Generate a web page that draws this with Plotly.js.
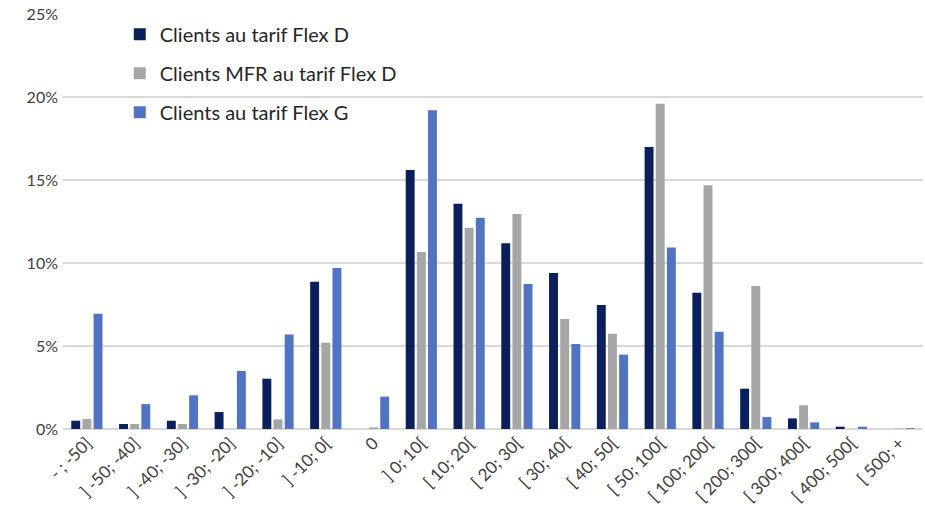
<!DOCTYPE html>
<html>
<head>
<meta charset="utf-8">
<script src="https://cdn.plot.ly/plotly-3.0.1.min.js"></script>
<style>html,body{margin:0;padding:0;background:#fff;}#chart{width:925px;height:507px;}</style>
</head>
<body>
<div id="chart"></div>
<script>
const categories = ["- ; -50]", "] -50; -40]", "] -40; -30]", "] -30; -20]", "] -20; -10]", "] -10; 0[", "0", "] 0; 10[", "[ 10; 20[", "[ 20; 30[", "[ 30; 40[", "[ 40; 50[", "[ 50; 100[", "[ 100; 200[", "[ 200; 300[", "[ 300; 400[", "[ 400; 500[", "[ 500; +"];
const flexD = [0.005, 0.003, 0.005, 0.0102, 0.0303, 0.0887, 0.0, 0.156, 0.1357, 0.1119, 0.094, 0.0747, 0.1699, 0.0821, 0.0243, 0.0064, 0.0014, 0.0];
const mfrFlexD = [0.006, 0.003, 0.003, 0.0, 0.0058, 0.052, 0.001, 0.1066, 0.1213, 0.1295, 0.0663, 0.0574, 0.196, 0.1468, 0.0861, 0.0143, 0.0, 0.0003];
const flexG = [0.0695, 0.015, 0.0203, 0.035, 0.057, 0.097, 0.0195, 0.192, 0.1273, 0.0873, 0.0512, 0.0448, 0.1094, 0.0586, 0.0072, 0.004, 0.0014, 0.0005];
const seriesNames = ["Clients au tarif Flex D", "Clients MFR au tarif Flex D", "Clients au tarif Flex G"];

const colors = ["#0b1f5c", "#a6a6a6", "#5174c2"];
const vals = [flexD, mfrFlexD, flexG];
const data = vals.map((v, i) => ({
  type: "bar",
  x: categories,
  y: v,
  name: seriesNames[i],
  legendgroup: "g" + i,
  marker: {color: colors[i]},
  hoverinfo: "x+y+name"
}));

const layout = {
  width: 925, height: 507,
  margin: {l: 63, r: 2, t: 14, b: 78},
  paper_bgcolor: "#ffffff",
  plot_bgcolor: "#ffffff",
  font: {family: "Lato, 'Open Sans', sans-serif", color: "#404040"},
  barmode: "group",
  bargap: 0.3,
  bargroupgap: 0.2,
  xaxis: {
    type: "category",
    tickangle: -45,
    tickfont: {size: 17, color: "#404040"},
    showgrid: false,
    showline: false,
    zeroline: false,
    ticks: ""
  },
  yaxis: {
    range: [0, 0.25],
    dtick: 0.05,
    tickformat: ".0%",
    tickfont: {size: 16, color: "#404040"},
    gridcolor: "#d9d9d9",
    gridwidth: 1.5,
    zeroline: true,
    zerolinecolor: "#d9d9d9",
    zerolinewidth: 1.5,
    showline: false,
    ticks: "",
    ticklabelstandoff: 4
  },
  showlegend: true,
  legend: {
    x: 0.066, y: 0.998, xanchor: "left", yanchor: "top",
    font: {size: 20, color: "#262626"},
    bgcolor: "rgba(255,255,255,0)",
    tracegroupgap: 10,
    itemwidth: 30
  }
};

Plotly.newPlot("chart", data, layout, {displayModeBar: false, staticPlot: true});
</script>
</body>
</html>
